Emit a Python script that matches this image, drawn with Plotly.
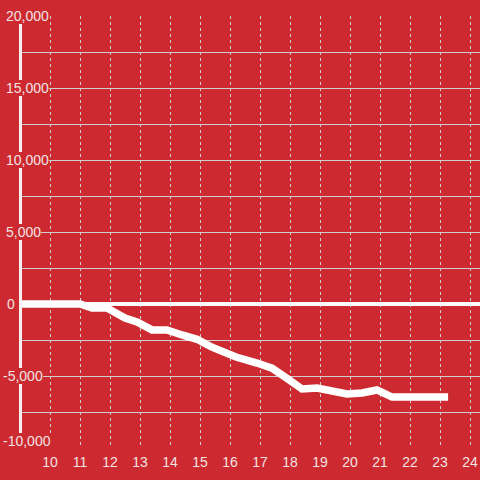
import plotly.graph_objects as go

# ---- data ----
hours = [9.0, 9.5, 10.0, 10.5, 11.0, 11.4, 11.9, 12.5, 12.9, 13.4, 13.9, 14.4, 14.9,
         15.4, 15.9, 16.2, 16.9, 17.4, 17.9, 18.4, 18.9, 19.4, 19.9, 20.4, 20.9,
         21.4, 21.9, 22.4, 22.9, 23.27]
values = [0, 0, 0, 0, 0, -280, -280, -970, -1250, -1800, -1800, -2150, -2450,
          -3000, -3500, -3680, -4100, -4450, -5170, -5900, -5830, -6100, -6250,
          -6180, -5970, -6460, -6460, -6460, -6460, -6460]

x_ticks = list(range(10, 25))
y_ticks = [20000, 15000, 10000, 5000, 0, -5000, -10000]
y_tick_labels = ["20,000", "15,000", "10,000", "5,000", "0", "-5,000", "-10,000"]

BG = "#cc2a30"
TXT = "#f3e2e2"
GRID = "#cfcfcf"
FONT = "Liberation Sans, Arial, sans-serif"

W, H = 480, 480
ML, MR, MT, MB = 20, 0, 16, 32
PW = W - ML - MR

fig = go.Figure()
fig.add_trace(go.Scatter(
    x=hours, y=values, mode="lines",
    line=dict(color="white", width=7.5),
    hoverinfo="skip", showlegend=False,
))

fig.update_layout(
    width=W, height=H,
    margin=dict(l=ML, r=MR, t=MT, b=MB, pad=0, autoexpand=False),
    paper_bgcolor=BG, plot_bgcolor=BG,
    font=dict(family=FONT, color=TXT, size=14),
    xaxis=dict(
        range=[9, 9 + PW / 30.0],
        tickvals=x_ticks, ticktext=[str(v) for v in x_ticks],
        showgrid=True, gridcolor=GRID, gridwidth=1, griddash="3px,3px",
        zeroline=False, showline=False, ticks="", automargin=False,
        ticklabelstandoff=4,
        tickfont=dict(size=14, color=TXT, family=FONT),
        fixedrange=True,
    ),
    yaxis=dict(
        range=[-10000, 20000],
        tickvals=list(range(-10000, 20001, 2500)),
        showticklabels=False, automargin=False,
        showgrid=True, gridcolor=GRID, gridwidth=1,
        zeroline=True, zerolinecolor="white", zerolinewidth=4,
        showline=False, ticks="",
        fixedrange=True,
    ),
)

# y-axis line (white, slightly inset)
ph = H - MT - MB
fig.add_shape(type="line", xref="paper", yref="paper",
              x0=0.5 / PW, x1=0.5 / PW, y0=8 / ph, y1=1 - 8 / ph,
              line=dict(color="#f4f0f0", width=3), layer="above")

# y tick labels with background boxes
for val, lab in zip(y_ticks, y_tick_labels):
    if val < 0:
        px = 3
    elif val == 0:
        px = 7
    else:
        px = 6
    fig.add_annotation(
        x=(px - ML) / PW, xref="paper", y=val, yref="y",
        text=lab, showarrow=False, xanchor="left", yanchor="middle",
        yshift=7 if val == -10000 else 0,
        font=dict(size=14, color=TXT, family=FONT),
        bgcolor=BG, borderpad=0, borderwidth=0,
    )

fig.write_html(
    "out.html",
    config={"displayModeBar": False, "staticPlot": True},
    post_script="document.body.style.margin='0';document.body.style.padding='0';"
                "document.body.style.background='" + BG + "';",
)
